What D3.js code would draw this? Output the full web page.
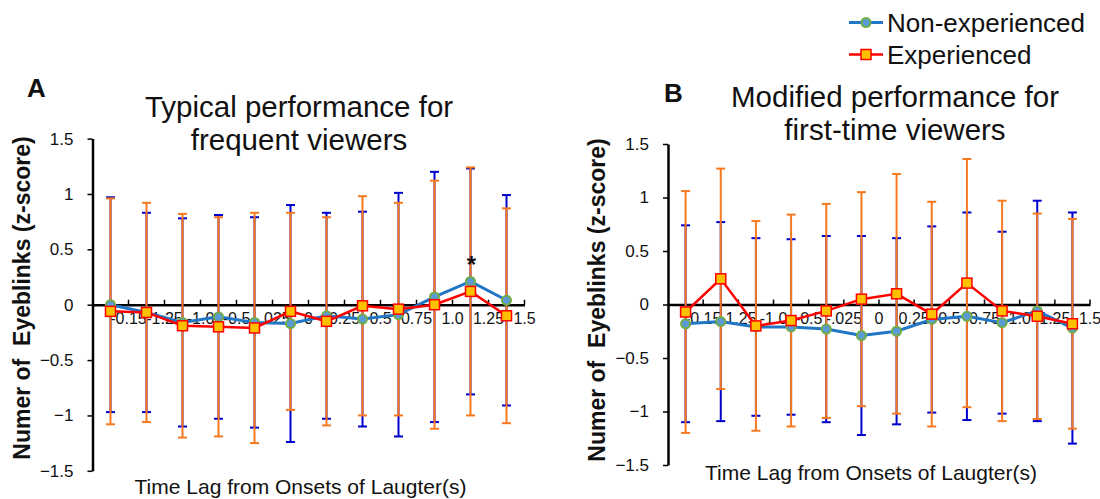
<!DOCTYPE html>
<html>
<head>
<meta charset="utf-8">
<script src="https://cdn.jsdelivr.net/npm/d3@7"></script>
<style>
body { margin: 0; background: #fff; }
svg text { font-family: "Liberation Sans", Arial, sans-serif; fill: #111; }
</style>
</head>
<body>
<svg width="1100" height="499"></svg>
<script>
// categories (time lag labels) and y ticks
var lagLabels = ["-0.15", "-1.25", "-1.0", "-0.5", "-.025", "0", "0.25", "0.5", "0.75", "1.0", "1.25", "1.5"];
var yTicks = [-1.5, -1, -0.5, 0, 0.5, 1, 1.5];
var seriesNames = ["Non-experienced", "Experienced"];

// panel A: typical performance
var typicalNonExp    = [0.00, -0.07, -0.16, -0.11, -0.16, -0.17, -0.10, -0.13, -0.09, 0.07, 0.21, 0.04];
var typicalNonExpErr = [0.97, 0.90, 0.94, 0.92, 0.95, 1.07, 0.93, 0.97, 1.10, 1.13, 1.02, 0.95];
var typicalExp       = [-0.06, -0.07, -0.19, -0.20, -0.21, -0.06, -0.15, -0.01, -0.04, 0.00, 0.12, -0.10];
var typicalExpErr    = [1.02, 0.99, 1.01, 0.99, 1.04, 0.89, 0.94, 0.99, 0.96, 1.12, 1.12, 0.97];

// panel B: modified performance
var modifiedNonExp    = [-0.18, -0.16, -0.21, -0.21, -0.23, -0.29, -0.25, -0.14, -0.11, -0.17, -0.06, -0.22];
var modifiedNonExpErr = [0.92, 0.93, 0.83, 0.82, 0.87, 0.93, 0.87, 0.87, 0.97, 0.85, 1.03, 1.08];
var modifiedExp       = [-0.07, 0.24, -0.20, -0.15, -0.06, 0.05, 0.10, -0.09, 0.20, -0.06, -0.11, -0.18];
var modifiedExpErr    = [1.13, 1.03, 0.98, 0.99, 1.00, 1.00, 1.12, 1.05, 1.16, 1.03, 0.96, 0.98];

var blueLine = "#2276c6", blueBar = "#0000cc";
var redLine = "#ff0000", orangeBar = "#f7791f";

var svg = d3.select("svg");

var panels = [
  { letter: "A", title: ["Typical performance for", "frequent viewers"],
    nonExp: typicalNonExp, nonExpErr: typicalNonExpErr, exp: typicalExp, expErr: typicalExpErr,
    left: 92.5, right: 524.5, top: 138.6, bottom: 470.8,
    letterX: 27, letterY: 97, titleX: 299, titleY: 117,
    yTitleX: 30, yTitleY: 298, xTitleY: 494, star: 10 },
  { letter: "B", title: ["Modified performance for", "first-time viewers"],
    nonExp: modifiedNonExp, nonExpErr: modifiedNonExpErr, exp: modifiedExp, expErr: modifiedExpErr,
    left: 668, right: 1090, top: 144, bottom: 465,
    letterX: 664, letterY: 102, titleX: 895, titleY: 107,
    yTitleX: 605, yTitleY: 300, xTitleY: 480, star: null }
];

panels.forEach(function(p) {
  var x = d3.scaleBand()
            .domain(lagLabels)
            .range([p.left, p.right]);
  var y = d3.scaleLinear()
            .domain([-1.5, 1.5])
            .range([p.bottom, p.top]);
  var bw = x.bandwidth();
  var cx = function(i) { return x(lagLabels[i]) + bw / 2; };

  // y axis
  var yAxis = svg.append("g")
      .attr("transform", "translate(" + p.left + ",0)")
      .call(d3.axisLeft(y).tickValues(yTicks).tickFormat(d3.format("")).tickSize(5).tickPadding(14).tickSizeOuter(0));
  yAxis.select(".domain").attr("stroke", "#000").attr("stroke-width", 2.5);
  yAxis.selectAll(".tick line").attr("stroke", "#000").attr("stroke-width", 1.5);
  yAxis.selectAll("text").style("font-size", "17px").attr("fill", "#111");

  // x axis through zero, labels at category boundaries
  var xAxis = svg.append("g")
      .attr("transform", "translate(" + (bw / 2) + "," + y(0) + ")")
      .call(d3.axisBottom(x).tickSize(-5).tickPadding(8).tickSizeOuter(0));
  xAxis.select(".domain").attr("transform", "translate(" + (-bw / 2) + ",0)")
      .attr("stroke", "#000").attr("stroke-width", 2.5);
  xAxis.selectAll(".tick line").attr("stroke", "#000").attr("stroke-width", 1.5);
  xAxis.selectAll("text").style("font-size", "16px").attr("fill", "#111");

  // error bars
  function errorBars(vals, errs, color) {
    var g = svg.append("g").attr("stroke", color).attr("stroke-width", 2).attr("fill", "none");
    vals.forEach(function(v, i) {
      var xx = cx(i), y1 = y(v + errs[i]), y2 = y(v - errs[i]);
      g.append("line").attr("x1", xx).attr("x2", xx).attr("y1", y1).attr("y2", y2);
      g.append("line").attr("x1", xx - 4.5).attr("x2", xx + 4.5).attr("y1", y1).attr("y2", y1);
      g.append("line").attr("x1", xx - 4.5).attr("x2", xx + 4.5).attr("y1", y2).attr("y2", y2);
    });
  }
  errorBars(p.nonExp, p.nonExpErr, blueBar);
  errorBars(p.exp, p.expErr, orangeBar);

  var line = d3.line()
      .x(function(d, i) { return cx(i); })
      .y(function(d) { return y(d); });

  svg.append("path")
      .datum(p.nonExp)
      .attr("d", line)
      .attr("fill", "none")
      .attr("stroke", blueLine)
      .attr("stroke-width", 3);
  svg.selectAll(null)
      .data(p.nonExp)
      .enter()
      .append("circle")
      .attr("cx", function(d, i) { return cx(i); })
      .attr("cy", function(d) { return y(d); })
      .attr("r", 4.5)
      .attr("fill", "#5b9bd5")
      .attr("stroke", "#70ad47")
      .attr("stroke-width", 2);

  svg.append("path")
      .datum(p.exp)
      .attr("d", line)
      .attr("fill", "none")
      .attr("stroke", redLine)
      .attr("stroke-width", 2.5);
  svg.selectAll(null)
      .data(p.exp)
      .enter()
      .append("rect")
      .attr("x", function(d, i) { return cx(i) - 5; })
      .attr("y", function(d) { return y(d) - 5; })
      .attr("width", 10)
      .attr("height", 10)
      .attr("fill", "#ffc000")
      .attr("stroke", redLine)
      .attr("stroke-width", 1.5);

  if (p.star !== null) {
    svg.append("text")
      .attr("x", cx(p.star) + 1)
      .attr("y", y(p.nonExp[p.star]) - 8)
      .style("text-anchor", "middle")
      .style("font-size", "24px")
      .style("font-weight", "bold")
      .text("*");
  }

  // panel letter and title
  svg.append("text")
      .attr("x", p.letterX)
      .attr("y", p.letterY)
      .style("font-size", "26px")
      .style("font-weight", "bold")
      .text(p.letter);

  svg.append("text")
      .attr("x", p.titleX)
      .attr("y", p.titleY)
      .style("text-anchor", "middle")
      .style("font-size", "29.5px")
    .selectAll("tspan")
      .data(p.title)
      .enter()
      .append("tspan")
      .attr("x", p.titleX)
      .attr("dy", function(d, i) { return i ? 33 : 0; })
      .text(function(d) { return d; });

  svg.append("text")
      .attr("transform", "translate(" + p.yTitleX + "," + p.yTitleY + ") rotate(-90)")
      .style("text-anchor", "middle")
      .style("font-size", "23px")
      .style("font-weight", "bold")
      .style("white-space", "pre")
      .text("Numer of  Eyeblinks (z-score)");

  svg.append("text")
      .attr("x", (p.left + p.right) / 2 - 8)
      .attr("y", p.xTitleY)
      .style("text-anchor", "middle")
      .style("font-size", "21px")
      .text("Time Lag from Onsets of Laugter(s)");
});

// legend
var legend = svg.append("g");
seriesNames.forEach(function(name, i) {
  var ly = 22.5 + i * 32;
  legend.append("line")
      .attr("x1", 849).attr("x2", 883).attr("y1", ly).attr("y2", ly)
      .attr("stroke", i ? redLine : blueLine)
      .attr("stroke-width", i ? 2.5 : 3);
  if (i === 0) {
    legend.append("circle").attr("cx", 866).attr("cy", ly).attr("r", 4.5)
        .attr("fill", "#5b9bd5").attr("stroke", "#70ad47").attr("stroke-width", 2);
  } else {
    legend.append("rect").attr("x", 861).attr("y", ly - 5).attr("width", 10).attr("height", 10)
        .attr("fill", "#ffc000").attr("stroke", redLine).attr("stroke-width", 1.5);
  }
  legend.append("text")
      .attr("x", 887)
      .attr("y", ly + 9.5)
      .style("font-size", "26px")
      .text(name);
});
</script>
</body>
</html>
